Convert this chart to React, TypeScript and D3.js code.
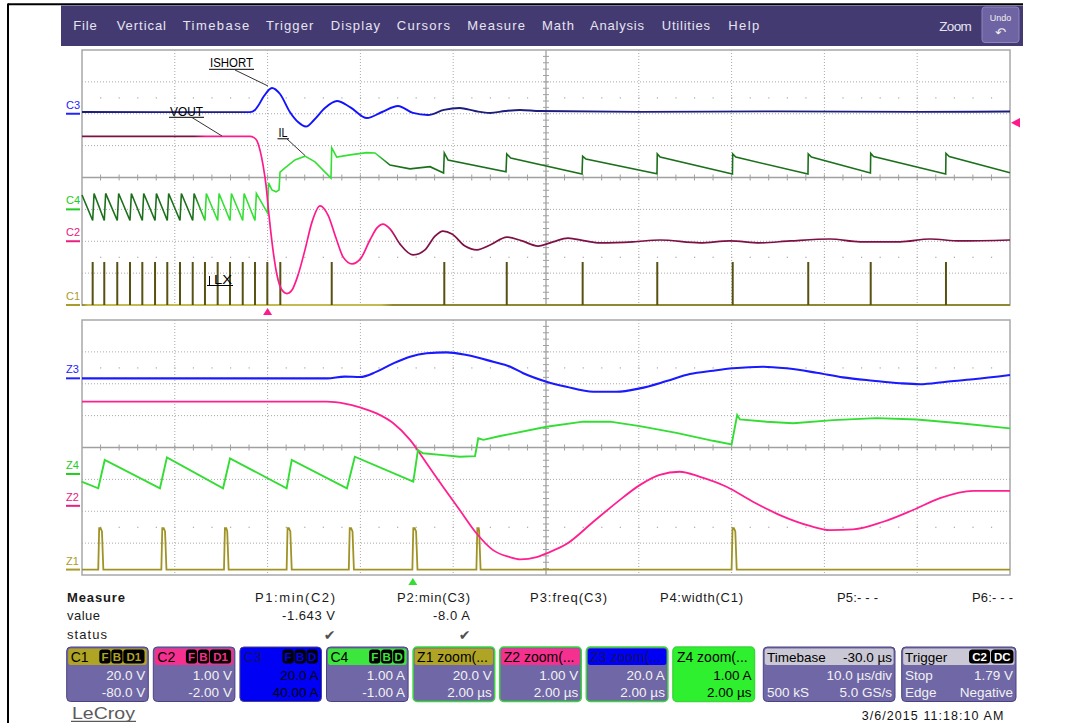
import * as d3 from "d3";
import * as React from "react";

type Pt = [number, number];

// ---------- top display: 10 us/div, trigger at t = 0 ----------
// C3 = ISHORT (A)
const c3Top: Pt[] = [
  [-20, 1.1], [-1.9, 1.0], [-1.36, 2.4], [-1.03, 4.9], [-0.39, 11.1], [0.47, 16.2], [1.34, 12.4],
  [2.4, 1.1], [3.28, -5.2], [4.14, -8.0], [5.0, -3.9], [6.18, 3.6], [7.48, 8.0], [8.88, 4.2],
  [10.71, -2.7], [12.33, 1.1], [14.05, 4.9], [15.67, 0.5], [17.28, -0.8], [19.0, 2.4], [20.7, 3.6],
  [22.35, 1.7], [23.97, 0.5], [25.6, 1.7], [27.2, 2.4], [29.35, 1.7], [40, 1.2], [55, 1.5], [70, 1.2], [80, 1.4],
];
// C2 = VOUT (V)
const c2Top: Pt[] = [
  [-20, 3.29], [-1.9, 3.29], [-1.47, 3.25], [-1.14, 3.15], [-0.82, 2.86], [-0.49, 2.39], [-0.17, 1.76],
  [0.15, 0.82], [0.58, -0.27], [1.01, -1.06], [1.55, -1.53], [2.09, -1.64], [2.63, -1.53], [3.28, -1.06],
  [4.03, -0.27], [4.78, 0.6], [5.65, 1.11], [6.51, 0.82], [7.37, 0.1], [8.13, -0.49], [9.1, -0.71],
  [10.06, -0.53], [11.03, 0.04], [11.79, 0.42], [12.44, 0.54], [13.19, 0.39], [14.27, -0.09], [15.67, -0.43],
  [16.96, -0.27], [18.04, 0.16], [18.9, 0.32], [19.87, 0.23], [21.27, -0.15], [22.56, -0.27], [23.97, -0.12],
  [25.8, 0.13], [27.41, 0.01], [29.14, -0.15], [30.75, -0.02], [32.37, 0.1], [34.2, 0.01], [35.82, -0.05],
  [39.38, -0.02], [42.28, 0.04], [46.6, -0.05], [49.83, 0.01], [53.06, -0.05], [56.29, 0.01], [60.6, 0.07],
  [63.84, -0.02], [68.15, -0.02], [71.38, 0.07], [74.61, 0.01], [80, 0.04],
];
// C4 = IL (A)
const c4Top: Pt[] = [
  [-20, 0.45], [-18.85, -0.35], [-18.7, 0.5], [-17.6, -0.35], [-17.45, 0.5], [-16.2, -0.35], [-16.05, 0.5],
  [-14.83, -0.35], [-14.68, 0.5], [-13.5, -0.35], [-13.35, 0.5], [-12.13, -0.35], [-11.98, 0.5],
  [-10.81, -0.35], [-10.66, 0.5], [-9.44, -0.35], [-9.29, 0.5], [-8.07, -0.35], [-7.92, 0.5],
  [-6.75, -0.35], [-6.6, 0.5], [-5.38, -0.35], [-5.23, 0.5], [-4.05, -0.35], [-3.9, 0.5],
  [-2.68, -0.35], [-2.53, 0.5], [-1.36, -0.35], [-1.21, 0.5], [-0.01, -0.11], [0.1, 0.83], [0.47, 0.61],
  [0.91, 0.55], [1.23, 0.61], [1.34, 1.17], [1.88, 1.3], [2.95, 1.55], [4.03, 1.67], [5.11, 1.49],
  [6.19, 1.17], [6.83, 0.98], [6.91, 1.93], [7.45, 1.64], [8.88, 1.71], [10.68, 1.78], [11.57, 1.77],
  [13.19, 1.39], [15.34, 1.27], [17.5, 1.34], [18.96, 1.14], [19.04, 1.77], [19.44, 1.55], [25.69, 1.18],
  [25.77, 1.74], [26.2, 1.61], [33.88, 1.11], [33.95, 1.67], [34.3, 1.58], [41.96, 1.12], [41.99, 1.74],
  [42.3, 1.64], [50.09, 1.11], [50.12, 1.74], [50.45, 1.64], [58.23, 1.11], [58.26, 1.74], [58.6, 1.64],
  [64.96, 1.14], [64.99, 1.76], [65.3, 1.66], [73.07, 1.11], [73.1, 1.76], [73.45, 1.66], [80, 1.15],
];
// C1 = LX switching pulses (start times, us)
const c1TopPulses = [
  -18.85, -17.6, -16.2, -14.83, -13.5, -12.13, -10.81, -9.44, -8.07, -6.75, -5.38, -4.05, -2.68, -1.36,
  -0.03, 1.37, 6.91, 19.04, 25.77, 33.95, 41.99, 50.12, 58.26, 64.99, 73.1,
];
const c1TopHigh = 27;

// ---------- bottom display: zoom, 2 us/div ----------
const z3Bot: Pt[] = [
  [-7.13, 0], [-1.85, 0], [-1.47, 1.1], [-1.14, 0.8], [-0.78, 4.2], [-0.42, 9.4], [-0.06, 13.6], [0.3, 15.7],
  [0.73, 16.3], [1.16, 14.6], [1.73, 10.4], [2.09, 7.4], [2.38, 3.2], [2.88, -2.1], [3.31, -5.3], [3.89, -8.4],
  [4.39, -8.4], [4.89, -6.3], [5.47, -1.7], [5.97, 2.7], [6.47, 4.8], [6.9, 6.3], [7.55, 7.3], [8.05, 6.3],
  [8.7, 3.5], [9.27, 0.6], [9.92, -1.5], [10.5, -3.1], [10.93, -3.7], [11.5, -2.1], [12.08, -0.6], [12.87, 2.1],
];
const z2Bot: Pt[] = [
  [-7.13, 3.27], [-1.85, 3.27], [-1.47, 3.21], [-1.14, 3.09], [-0.78, 2.9], [-0.42, 2.59], [-0.06, 2.07],
  [0.3, 1.33], [0.65, 0.6], [1.01, -0.13], [1.37, -0.86], [1.73, -1.39], [2.09, -1.61], [2.31, -1.68],
  [2.67, -1.61], [2.88, -1.49], [3.31, -1.2], [3.89, -0.5], [4.39, 0.1], [4.89, 0.65], [5.32, 0.97],
  [5.75, 1.07], [6.19, 0.91], [6.76, 0.6], [7.33, 0.13], [7.91, -0.29], [8.56, -0.63], [8.99, -0.76],
  [9.49, -0.74], [10.14, -0.5], [10.78, -0.13], [11.36, 0.24], [12.08, 0.47], [12.87, 0.47],
];
const z4Bot: Pt[] = [
  [-7.14, -0.24], [-6.78, -0.45], [-6.64, 0.44], [-5.45, -0.45], [-5.3, 0.52], [-4.09, -0.45], [-3.94, 0.49],
  [-2.72, -0.45], [-2.61, 0.44], [-1.42, -0.45], [-1.25, 0.54], [0.01, -0.24], [0.11, 0.75], [0.22, 0.65],
  [0.65, 0.59], [1.01, 0.54], [1.34, 0.56], [1.41, 1.12], [1.52, 1.07], [1.88, 1.19], [2.09, 1.25],
  [2.88, 1.48], [3.67, 1.64], [4.25, 1.64], [4.89, 1.5], [5.68, 1.29], [6.47, 1.04], [6.87, 0.93],
  [6.99, 1.85], [7.05, 1.71], [7.62, 1.64], [8.2, 1.59], [9.06, 1.69], [9.99, 1.75], [10.86, 1.71],
  [11.79, 1.59], [12.87, 1.43],
];
const z1BotPulses: [number, number][] = [
  [-6.78, -6.67], [-5.42, -5.31], [-4.07, -3.97], [-2.72, -2.61], [-1.38, -1.27], [-0.01, 0.1], [1.37, 1.46], [6.87, 6.98],
];
const z1High = 26;
const z1Sag = 24;

// channel settings (units per div, position offset in div)
const CH = {
  c1: { perDiv: 20, offsetDiv: -4 },
  c2: { perDiv: 1, offsetDiv: -2 },
  c3: { perDiv: 20, offsetDiv: 2 },
  c4: { perDiv: 1, offsetDiv: -1 },
};
const zoomShift = 0.17;

const menuItems: [string, number, number][] = [
  ["File", 73.3, 23.4], ["Vertical", 116.7, 49.3], ["Timebase", 182.7, 66.6], ["Trigger", 266, 47.3],
  ["Display", 330.7, 49.3], ["Cursors", 396.7, 53.3], ["Measure", 467.3, 57.7], ["Math", 542, 32],
  ["Analysis", 590, 54], ["Utilities", 661.7, 48.3], ["Help", 728.3, 31],
];

const measureCols: [string, number, number][] = [
  ["P1:min(C2)", 255, 80], ["P2:min(C3)", 397, 73], ["P3:freq(C3)", 530, 77], ["P4:width(C1)", 660, 83],
  ["P5:- - -", 837, 41], ["P6:- - -", 972, 41],
];
const measureValues: [string, number, number][] = [["-1.643 V", 282, 53], ["-8.0 A", 433, 37]];
const measureChecks = [335, 470];

const chanBoxes = [
  { name: "C1", head: "#b0a424", badges: ["F", "B", "D1"], lines: ["20.0 V", "-80.0 V"], full: false, zoom: false },
  { name: "C2", head: "#f5308e", badges: ["F", "B", "D1"], lines: ["1.00 V", "-2.00 V"], full: false, zoom: false },
  { name: "C3", head: "#0000f5", badges: ["F", "B", "D"], lines: ["20.0 A", "40.00 A"], full: true, zoom: false },
  { name: "C4", head: "#3de63d", badges: ["F", "B", "D"], lines: ["1.00 A", "-1.00 A"], full: false, zoom: false },
  { name: "Z1 zoom(...", head: "#b0a424", badges: [], lines: ["20.0 V", "2.00 µs"], full: false, zoom: true },
  { name: "Z2 zoom(...", head: "#f5308e", badges: [], lines: ["1.00 V", "2.00 µs"], full: false, zoom: true },
  { name: "Z3 zoom(...", head: "#0000f5", badges: [], lines: ["20.0 A", "2.00 µs"], full: false, zoom: true },
  { name: "Z4 zoom(...", head: "#2ef02e", badges: [], lines: ["1.00 A", "2.00 µs"], full: true, zoom: true },
];

const L = 82, R = 1010;
const TA = 50, BA = 305, TB = 320, BB = 575;
const FONT = "Liberation Sans, Arial, sans-serif";
const BODY = "#6f67a6";

const tTop = d3.scaleLinear().domain([-20, 80]).range([L, R]);
const tBot = d3.scaleLinear().domain([-7.13, 12.87]).range([L, R]);

function yScale(ch: { perDiv: number; offsetDiv: number }, top: number, bottom: number, shift = 0) {
  const off = ch.offsetDiv + shift;
  return d3.scaleLinear().domain([(-4 - off) * ch.perDiv, (4 - off) * ch.perDiv]).range([bottom, top]);
}

function Grid({ top, bottom }: { top: number; bottom: number }) {
  const dx = (R - L) / 10, dy = (bottom - top) / 8;
  const cx = L + 5 * dx, cy = top + 4 * dy;
  const els: JSX.Element[] = [];
  for (let i = 1; i < 10; i++) if (i !== 5)
    els.push(<line key={"v" + i} x1={L + i * dx} x2={L + i * dx} y1={top} y2={bottom} stroke="#a9a9a9" strokeDasharray="1,2" />);
  for (let j = 1; j < 8; j++) if (j !== 4)
    els.push(<line key={"h" + j} x1={L} x2={R} y1={top + j * dy} y2={top + j * dy} stroke="#a9a9a9" strokeDasharray="1,2" />);
  for (let k = 1; k < 50; k++) {
    const x = L + (k * dx) / 5;
    els.push(<line key={"tx" + k} x1={x} x2={x} y1={cy - 3} y2={cy + 3} stroke="#a0a0a0" />);
    els.push(<rect key={"da" + k} x={x - 0.5} y={cy - 2.5 * dy - 0.5} width={1.2} height={1.2} fill="#a8a8a8" />);
    els.push(<rect key={"db" + k} x={x - 0.5} y={cy + 2.5 * dy - 0.5} width={1.2} height={1.2} fill="#a8a8a8" />);
  }
  for (let k = 1; k < 40; k++) {
    const y = top + (k * dy) / 5;
    els.push(<line key={"ty" + k} x1={cx - 3} x2={cx + 3} y1={y} y2={y} stroke="#a0a0a0" />);
  }
  return (
    <g>
      {els}
      <line x1={L} x2={R} y1={cy} y2={cy} stroke="#a0a0a0" strokeWidth={1.3} />
      <line x1={cx} x2={cx} y1={top} y2={bottom} stroke="#a0a0a0" strokeWidth={1.3} />
      <rect x={L} y={top} width={R - L} height={bottom - top} fill="none" stroke="#a8a8a8" strokeWidth={1.5} />
    </g>
  );
}

function Grad({ id, x0, x1, dark, bright }: { id: string; x0: number; x1: number; dark: string; bright: string }) {
  const f = (x: number) => Math.max(0, Math.min(1, (x - L) / (R - L)));
  return (
    <linearGradient id={id} gradientUnits="userSpaceOnUse" x1={L} y1={0} x2={R} y2={0}>
      <stop offset={f(x0 - 6)} stopColor={dark} />
      <stop offset={f(x0 + 6)} stopColor={bright} />
      <stop offset={f(x1 - 6)} stopColor={bright} />
      <stop offset={f(x1 + 6)} stopColor={dark} />
    </linearGradient>
  );
}

function ChanLabel({ text, y0, color }: { text: string; y0: number; color: string }) {
  return (
    <g>
      <text x={66} y={y0 - 5} fontSize={11} fill={color} fontFamily={FONT}>{text}</text>
      <line x1={66} x2={80} y1={y0} y2={y0} stroke={color} strokeWidth={2} />
    </g>
  );
}

function InfoBox({ x, w, b }: { x: number; w: number; b: (typeof chanBoxes)[number] }) {
  const y = 647, h = 54.5;
  const fill = b.full ? b.head : BODY;
  const txt = b.full ? "#000" : "#f2f2f2";
  let bx = x + w - 3;
  const badgeEls = b.badges.slice().reverse().map((s, i) => {
    const bw = s.length > 1 ? 22 : 12;
    bx -= bw;
    return (
      <g key={i}>
        <rect x={bx} y={649.5} width={bw - 0.8} height={14} rx={3} fill="#000" />
        <text x={bx + (bw - 0.8) / 2} y={661} textAnchor="middle" fontSize={11.5} fontWeight="bold" fill={b.head} fontFamily={FONT}>{s}</text>
      </g>
    );
  });
  const dimHead = b.name === "C3" || b.name.startsWith("Z3");
  return (
    <g>
      <rect x={x} y={y} width={w} height={h} rx={4} fill={fill} stroke={b.zoom ? "#3bd63b" : "#4b4282"} strokeWidth={b.zoom ? 1.5 : 1} />
      <rect x={x + 1.5} y={y + 1.5} width={w - 3} height={16.5} rx={2.5} fill={b.head} />
      <text x={x + 4} y={661.5} fontSize={14} fill={dimHead ? "#10106a" : "#000"} fontFamily={FONT}>{b.name}</text>
      {badgeEls}
      <text x={x + w - 3} y={680} textAnchor="end" fontSize={13.5} fill={txt} fontFamily={FONT}>{b.lines[0]}</text>
      <text x={x + w - 3} y={696.5} textAnchor="end" fontSize={13.5} fill={txt} fontFamily={FONT}>{b.lines[1]}</text>
    </g>
  );
}

export default function App() {
  const y1 = yScale(CH.c1, TA, BA), y2 = yScale(CH.c2, TA, BA), y3 = yScale(CH.c3, TA, BA), y4 = yScale(CH.c4, TA, BA);
  const z1 = yScale(CH.c1, TB, BB, zoomShift), z2 = yScale(CH.c2, TB, BB, zoomShift);
  const z3 = yScale(CH.c3, TB, BB, zoomShift), z4 = yScale(CH.c4, TB, BB, zoomShift);

  const mk = (x: d3.ScaleLinear<number, number>, y: d3.ScaleLinear<number, number>, curve: d3.CurveFactory) =>
    d3.line<Pt>().x((d) => x(d[0])).y((d) => y(d[1])).curve(curve);

  const z1Trace: Pt[] = [[-7.13, 0]];
  z1BotPulses.forEach(([a, b]) => { z1Trace.push([a, 0], [a + 0.02, z1High], [a + 0.05, z1High], [b - 0.03, z1Sag], [b, 0]); });
  z1Trace.push([12.87, 0]);

  const boxX = (i: number) => 66.7 + i * 86.6;

  return (
    <svg width={1084} height={723} style={{ position: "absolute", left: 0, top: 0, background: "#fff" }} fontFamily={FONT}>
      <defs>
        <Grad id="g3" x0={tTop(-2.44)} x1={tTop(17.5)} dark="#1d1d7e" bright="#1212ff" />
        <Grad id="g2" x0={tTop(-7.28)} x1={tTop(13.5)} dark="#7e1046" bright="#ff1a8c" />
        <Grad id="g4" x0={tTop(-7.28)} x1={tTop(12.4)} dark="#1c701c" bright="#33e033" />
        <Grad id="g1" x0={tTop(-20)} x1={tTop(12.87)} dark="#8e8834" bright="#c4ba52" />
      </defs>
      {/* page border */}
      <line x1={8} x2={8} y1={3.5} y2={723} stroke="#000" strokeWidth={2} />
      <line x1={8} x2={1023} y1={4.3} y2={4.3} stroke="#000" strokeWidth={2} />

      {/* menu bar */}
      <rect x={61} y={5.5} width={962} height={40.5} fill="#443a72" />
      {menuItems.map(([s, x, w]) => (
        <text key={s} x={x} y={29.5} fontSize={13} fill="#e6e4f0" textLength={w} lengthAdjust="spacing">{s}</text>
      ))}
      <text x={939.3} y={31} fontSize={13.5} fill="#e6e4f0" textLength={32.4} lengthAdjust="spacing">Zoom</text>
      <rect x={982} y={7} width={37} height={35.5} rx={3} fill="#6e64a3" stroke="#8c84bd" />
      <text x={1000.5} y={21} fontSize={9} fill="#eee" textAnchor="middle">Undo</text>
      <text x={1000.5} y={37} fontSize={13} fill="#eee" textAnchor="middle" fontFamily="DejaVu Sans">↶</text>

      {/* top display */}
      <Grid top={TA} bottom={BA} />
      <line x1={L} x2={R} y1={y1(0)} y2={y1(0)} stroke="url(#g1)" strokeWidth={1.8} />
      {c1TopPulses.map((t, i) => (
        <line key={i} x1={tTop(t)} x2={tTop(t)} y1={y1(0)} y2={y1(c1TopHigh)} stroke="#575112" strokeWidth={2} />
      ))}
      <path d={mk(tTop, y4, d3.curveLinear)(c4Top) || ""} fill="none" stroke="url(#g4)" strokeWidth={1.6} />
      <path d={mk(tTop, y2, d3.curveMonotoneX)(c2Top) || ""} fill="none" stroke="url(#g2)" strokeWidth={1.7} />
      <path d={mk(tTop, y3, d3.curveMonotoneX)(c3Top) || ""} fill="none" stroke="url(#g3)" strokeWidth={1.9} />

      <ChanLabel text="C3" y0={y3(0)} color="#2323ff" />
      <ChanLabel text="C4" y0={y4(0)} color="#22cc22" />
      <ChanLabel text="C2" y0={y2(0)} color="#e8207f" />
      <ChanLabel text="C1" y0={y1(0)} color="#a89d2c" />

      {/* annotations */}
      <g fontSize={12} fill="#000">
        <text x={210} y={66.5} textLength={43} lengthAdjust="spacingAndGlyphs">ISHORT</text>
        <line x1={209} x2={254} y1={69.3} y2={69.3} stroke="#000" />
        <line x1={235} x2={268} y1={70} y2={86} stroke="#333" />
        <text x={170} y={115.5} textLength={33} lengthAdjust="spacingAndGlyphs">VOUT</text>
        <line x1={169} x2={204} y1={117.3} y2={117.3} stroke="#000" />
        <line x1={192} x2={222} y1={117.5} y2={136} stroke="#333" />
        <text x={278.5} y={137} textLength={9} lengthAdjust="spacingAndGlyphs">IL</text>
        <line x1={277.5} x2={289} y1={138.8} y2={138.8} stroke="#000" />
        <line x1={287} x2={305} y1={139} y2={155.5} stroke="#333" />
        <text x={214} y={284} textLength={18} lengthAdjust="spacingAndGlyphs">LX</text>
        <line x1={209.5} x2={209.5} y1={276} y2={285.5} stroke="#000" />
        <line x1={207} x2={233} y1={285.5} y2={285.5} stroke="#000" />
      </g>

      {/* markers */}
      <path d={`M${tTop(0)},308 l4.5,7 h-9 z`} fill="#ff1a8c" />
      <path d="M1011,122.7 l9,-4.8 v9.6 z" fill="#ff1a8c" />

      {/* bottom (zoom) display */}
      <Grid top={TB} bottom={BB} />
      <path d={mk(tBot, z1, d3.curveLinear)(z1Trace) || ""} fill="none" stroke="#a09326" strokeWidth={1.8} />
      <path d={mk(tBot, z2, d3.curveMonotoneX)(z2Bot) || ""} fill="none" stroke="#ff2090" strokeWidth={1.8} />
      <path d={mk(tBot, z4, d3.curveLinear)(z4Bot) || ""} fill="none" stroke="#33dd33" strokeWidth={1.9} />
      <path d={mk(tBot, z3, d3.curveMonotoneX)(z3Bot) || ""} fill="none" stroke="#1a1aff" strokeWidth={2.1} />

      <ChanLabel text="Z3" y0={z3(0)} color="#2323ff" />
      <ChanLabel text="Z4" y0={z4(0)} color="#22cc22" />
      <ChanLabel text="Z2" y0={z2(0)} color="#e8207f" />
      <ChanLabel text="Z1" y0={z1(0)} color="#a89d2c" />
      <path d={`M${tBot(0)},578 l4.5,7 h-9 z`} fill="#33dd33" />

      {/* measurements */}
      <g fontSize={13} fill="#1a1a1a">
        <text x={67} y={602} fontWeight="bold" textLength={58} lengthAdjust="spacing">Measure</text>
        <text x={67} y={620} textLength={33} lengthAdjust="spacing">value</text>
        <text x={67} y={639} textLength={40} lengthAdjust="spacing">status</text>
        {measureCols.map(([s, x, w]) => (
          <text key={s} x={x} y={602} textLength={w} lengthAdjust="spacing">{s}</text>
        ))}
        {measureValues.map(([s, x, w]) => (
          <text key={s} x={x} y={620} textLength={w} lengthAdjust="spacing">{s}</text>
        ))}
        {measureChecks.map((x) => (
          <text key={x} x={x + 0.5} y={640} textAnchor="end" fontSize={14} fill="#505050" fontFamily="DejaVu Sans">✔</text>
        ))}
      </g>

      {/* channel descriptor boxes */}
      {chanBoxes.map((b, i) => <InfoBox key={b.name} x={boxX(i)} w={81.6} b={b} />)}

      {/* timebase and trigger boxes */}
      <g fontSize={13.5}>
        <rect x={763.3} y={647} width={131.7} height={54.5} rx={4} fill={BODY} stroke="#4b4282" />
        <rect x={764.8} y={648.5} width={128.7} height={16.5} rx={2.5} fill="#c9c8d4" />
        <text x={767} y={661.5} fill="#000">Timebase</text>
        <text x={892} y={661.5} fill="#000" textAnchor="end">-30.0 µs</text>
        <text x={892} y={680} fill="#f2f2f2" textAnchor="end">10.0 µs/div</text>
        <text x={767} y={696.5} fill="#f2f2f2">500 kS</text>
        <text x={892} y={696.5} fill="#f2f2f2" textAnchor="end">5.0 GS/s</text>

        <rect x={901.7} y={647} width={114.3} height={54.5} rx={4} fill={BODY} stroke="#4b4282" />
        <rect x={903.2} y={648.5} width={111.3} height={16.5} rx={2.5} fill="#c9c8d4" />
        <text x={905} y={661.5} fill="#000">Trigger</text>
        <rect x={969} y={649.5} width={21} height={14} rx={3.5} fill="#000" />
        <text x={979.5} y={661} fill="#fff" fontSize={11.5} fontWeight="bold" textAnchor="middle">C2</text>
        <rect x={991} y={649.5} width={22.5} height={14} rx={3.5} fill="#000" />
        <text x={1002.2} y={661} fill="#fff" fontSize={11.5} fontWeight="bold" textAnchor="middle">DC</text>
        <text x={905} y={680} fill="#f2f2f2">Stop</text>
        <text x={1013} y={680} fill="#f2f2f2" textAnchor="end">1.79 V</text>
        <text x={905} y={696.5} fill="#f2f2f2">Edge</text>
        <text x={1013} y={696.5} fill="#f2f2f2" textAnchor="end">Negative</text>
      </g>

      {/* footer */}
      <text x={72} y={718.5} fontSize={17} fill="#5a5a5a" textLength={63} lengthAdjust="spacingAndGlyphs">LeCroy</text>
      <line x1={71} x2={136} y1={721.3} y2={721.3} stroke="#5a5a5a" strokeWidth={1.2} />
      <text x={861.7} y={719.5} fontSize={12.5} fill="#111" textLength={141.6} lengthAdjust="spacing">3/6/2015 11:18:10 AM</text>
    </svg>
  );
}
